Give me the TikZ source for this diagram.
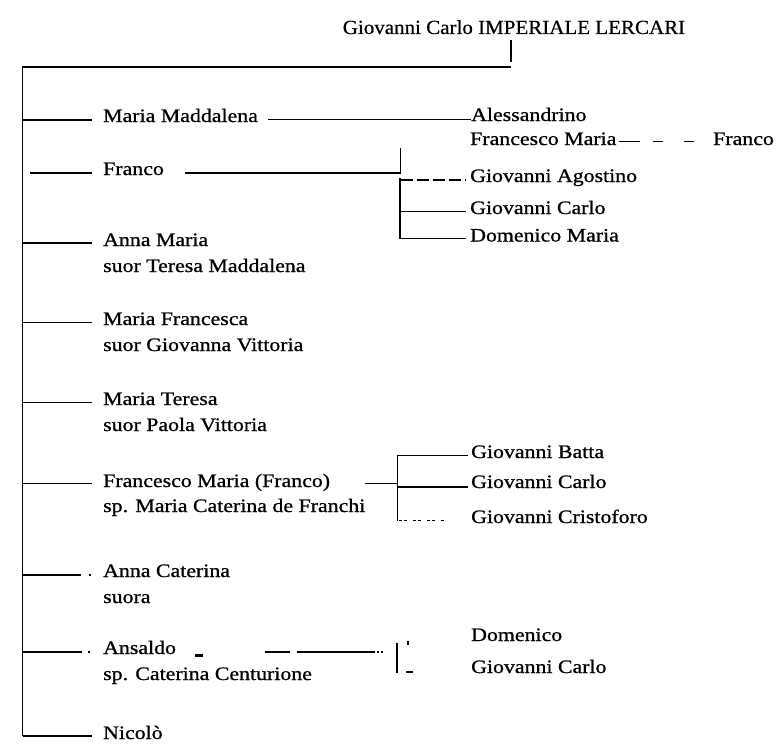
\documentclass[tikz,border=0pt]{standalone}
\usepackage{fontspec}
\setmainfont{Liberation Serif}[FakeStretch=1.15,FakeBold=0.9]
\newfontfamily\titlefont{Liberation Serif}[FakeStretch=1.05,FakeBold=0.5]
\begin{document}
\begin{tikzpicture}[x=1pt,y=-1pt,
  lbl/.style={anchor=base west,inner sep=0pt,font=\fontsize{19}{22}\selectfont},
  ttl/.style={anchor=base,inner sep=0pt,font=\titlefont\fontsize{20}{24}\selectfont},
  ln/.style={line width=1.8pt},
  dsh/.style={line width=1.8pt,dash pattern=on 12pt off 4pt}]
\useasboundingbox (0,0) rectangle (780,744);

% head of the family
\node[ttl] (head) at (514,34) {Giovanni Carlo IMPERIALE LERCARI};
\coordinate (hb) at (511,40);
\coordinate (he) at (511,62);
\coordinate (hc) at (511,67);
\coordinate (top) at (22.5,67);
\coordinate (bot) at (22.5,736);
\draw[ln] (hb) -- (he);
\draw[ln] (hc) -- (top) -- (bot);

% children
\node[lbl] (mm)  at (103,122) {Maria Maddalena};
\node[lbl] (fr)  at (103,175) {Franco};
\node[lbl] (am)  at (103,246) {Anna Maria};
\node[lbl] (am2) at (103,272) {suor Teresa Maddalena};
\node[lbl] (mf)  at (103,325) {Maria Francesca};
\node[lbl] (mf2) at (103,351) {suor Giovanna Vittoria};
\node[lbl] (mt)  at (103,405) {Maria Teresa};
\node[lbl] (mt2) at (103,431) {suor Paola Vittoria};
\node[lbl] (fm)  at (103,487) {Francesco Maria (Franco)};
\node[lbl] (fm2) at (103,512) {sp. Maria Caterina de Franchi};
\node[lbl] (ac)  at (103,577) {Anna Caterina};
\node[lbl] (ac2) at (103,603) {suora};
\node[lbl] (an)  at (103,654) {Ansaldo};
\node[lbl] (an2) at (103,680) {sp. Caterina Centurione};
\node[lbl] (ni)  at (103,739) {Nicolò};

\draw[ln] (22.5,120) -- (92,120);
\draw[ln] (30,173) -- (92,173);
\draw[ln] (22.5,243) -- (92,243);
\draw[ln] (22.5,322.5) -- (92,322.5);
\draw[ln] (22.5,402.5) -- (92,402.5);
\draw[ln] (22.5,483.5) -- (92,483.5);
\draw[ln] (22.5,575) -- (81,575);
\fill (88.5,574) rectangle (90.5,576);
\draw[ln] (22.5,652) -- (82,652);
\fill (87.5,651) rectangle (90,653);
\draw[ln] (22.5,736) -- (92,736);

% Maria Maddalena
\node[lbl] (al) at (471,121) {Alessandrino};
\draw[ln] (268,119.5) -- (al.west |- 0,119.5);

% Franco
\draw[ln] (185,173) -- (400.5,173);
\draw[ln] (400.5,148) -- (400.5,173);
\draw[ln] (400,178) -- (400,239);
\node[lbl] (fma) at (470,145) {Francesco Maria};
\node[lbl] (ga)  at (470,182) {Giovanni Agostino};
\node[lbl] (gc)  at (470,214) {Giovanni Carlo};
\node[lbl] (dm)  at (470,241.5) {Domenico Maria};
\draw[dsh] (401,180) -- (466,180);
\draw[ln] (400,211.5) -- (466,211.5);
\draw[ln] (400,238.5) -- (466,238.5);
\node[lbl] (fr3) at (713,145) {Franco};
\draw[ln] ([xshift=2pt]fma.east |- 0,141.5) -- (640,141.5);
\draw[ln] (653,141.5) -- (663,141.5);
\draw[ln] (684,141.5) -- (694,141.5);

% Francesco Maria (Franco)
\draw[ln] (365,483.5) -- (397.5,483.5);
\draw[ln] (397.5,455) -- (397.5,521);
\node[lbl] (gb)  at (471,458) {Giovanni Batta};
\node[lbl] (gc2) at (471,488) {Giovanni Carlo};
\node[lbl] (gcr) at (471,523) {Giovanni Cristoforo};
\draw[ln] (397.5,455.5) -- (468,455.5);
\draw[ln] (397.5,487) -- (468,487);
\draw[ln,dash pattern=on 3pt off 2pt on 3pt off 6pt] (399,520.5) -- (444,520.5);

% Ansaldo
\fill (195,654) rectangle (203,657);
\draw[ln] (265,652) -- (290,652);
\draw[ln] (297,652) -- (375,652);
\fill (377,651) rectangle (379,653);
\fill (381,651) rectangle (383,653);
\draw[ln] (397,643) -- (397,673);
\fill (407.2,640.5) rectangle (408.8,645);
\fill (405.5,670.8) rectangle (413,673);
\node[lbl] (do)  at (471,641) {Domenico};
\node[lbl] (gc3) at (471,673) {Giovanni Carlo};
\end{tikzpicture}
\end{document}
